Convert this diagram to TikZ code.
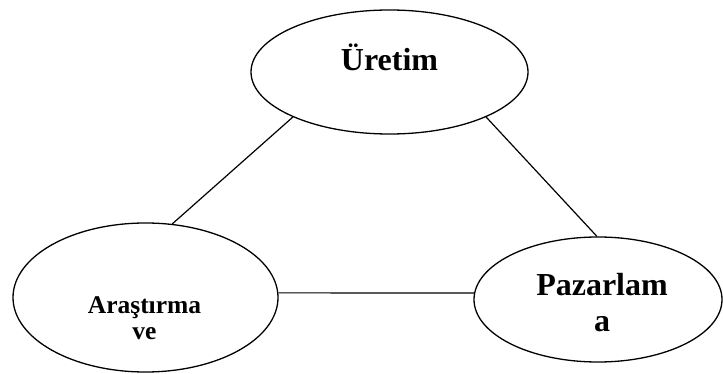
\documentclass[tikz,border=0pt]{standalone}
\usepackage{fontspec}
\setmainfont{Liberation Serif}
\usetikzlibrary{shapes.geometric}
\begin{document}
\begin{tikzpicture}[x=1pt,y=-1pt,
  bubble/.style={draw=black, line width=1.3pt, ellipse, inner sep=0pt, fill=white},
  bigtxt/.style={font=\fontsize{32}{36.7}\selectfont\bfseries, anchor=base, align=center, inner sep=0pt},
  smalltxt/.style={font=\fontsize{25.5}{26.5}\selectfont\bfseries, anchor=base, align=center, inner sep=0pt},
  link/.style={draw=black, line width=1.2pt}]
\useasboundingbox (0,0) rectangle (723,374);
\fill[white] (0,0) rectangle (723,374);

% the three departments
\node[bubble, minimum width=277pt, minimum height=124pt] (uretim) at (389.5,72) {};
\node[bubble, minimum width=265pt, minimum height=149pt] (arge) at (145.5,297.5) {};
\node[bubble, minimum width=248pt, minimum height=125pt] (pazar) at (598,299.5) {};

% their names (base anchor sits on the last line)
\node[bigtxt] (uretimtxt) at (389.5,71) {Üretim};
\node[smalltxt] (argetxt) at (144.5,339.5) {Araştırma\\ve};
\node[bigtxt] (pazartxt) at (602,331.7) {Pazarlam\\a};

% links between them
\draw[link] (uretim.205) -- (arge.70);
\draw[link] (uretim.335) -- (pazar.91);
\draw[link] (arge.2) -- (pazar.177);
\end{tikzpicture}
\end{document}
